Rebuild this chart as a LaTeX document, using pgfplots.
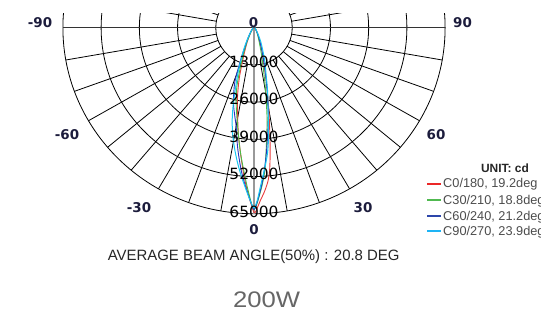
\documentclass[border=0pt]{standalone}
\usepackage{pgfplots}
\pgfplotsset{compat=1.18}
\usepackage{pgfplotstable}
\usepackage{fontspec}
\setmainfont{Liberation Sans}
\newfontfamily\dv{DejaVu Sans}

\definecolor{lbl}{RGB}{28,28,60}
\definecolor{cred}{RGB}{232,60,60}
\definecolor{cgreen}{RGB}{70,190,70}
\definecolor{cblue}{RGB}{40,50,190}
\definecolor{ccyan}{RGB}{20,200,240}
\definecolor{legR}{RGB}{235,40,40}
\definecolor{legG}{RGB}{80,185,80}
\definecolor{legB}{RGB}{45,70,170}
\definecolor{legC}{RGB}{30,180,245}

% angle (deg from nadir), intensity (kcd)
\pgfplotstableread{
a r
-90 0.3
-60 0.5
-40 1.2
-30 3
-25 5.5
-20 10
-16 18
-13 25
-10 32
-8 38
-6 44
-4 51
-2 58
0 64.5
1 63
2 60.5
3.5 57.5
5 54
6 50.5
7 45
8 39
9 33.5
10 29
12 21
14 15
17 10
20 7
25 4
30 2.5
40 1.2
60 0.5
90 0.3
}\redtab

\pgfplotstableread{
a r
-90 0.3
-60 0.5
-40 1.2
-30 3
-25 6
-20 12
-16 21
-13 27
-10 33
-8 38
-6 44
-4 50
-2 57
0 63.5
2 58
4 51
5.5 43
7 36
8 32
10 23
12 16
15 10
20 5
25 3
30 2
40 1
60 0.5
90 0.3
}\greentab

\pgfplotstableread{
a r
-90 0.3
-60 0.5
-40 1.5
-30 4
-25 7
-22 12
-19 20
-15 27
-12 31.5
-10 35
-7.5 42.5
-5 50
-3 55.5
-1 61
0 63.5
1 61
3 54
5 46
7 38
9 31
11 24
13 18
16 12
20 7
25 4
30 2.5
40 1
60 0.5
90 0.3
}\bluetab

\pgfplotstableread{
a r
-90 0.3
-60 0.5
-40 1.5
-30 4
-25 8
-20 15
-17 21
-15 27
-13 33
-11 38
-9 42.5
-7 47
-5 51.5
-3 56
-2 58.5
-1 61
0 63
1 60.5
2 56.5
3 53
4 50
5 47
6 44
7 40
8 35
9 31
10 27.5
12 22
14 17
16 14
18 11.5
20 9
25 5.5
30 3
40 1.2
60 0.5
90 0.3
}\cyantab

\begin{document}
\begin{tikzpicture}[x=1bp,y=1bp]
\path[use as bounding box] (0,0) rectangle (541,315);
% polar grid
\begin{scope}[shift={(254,287.3)}, xscale=2.94, yscale=-2.862]
  \clip (-70,-4.8) rectangle (70,70);
  \foreach \r in {13,26,39,52,65}
    \draw[black, line width=0.8bp] (0,0) circle[radius=\r];
  \foreach \a in {10,20,...,350}
    \draw[black, line width=0.8bp] ({13*sin(\a)},{13*cos(\a)}) -- ({65*sin(\a)},{65*cos(\a)});
  \draw[black!80, line width=1.1bp] (-65,0) -- (65,0);
  \draw[black!40, line width=1.3bp] (0,0) -- (0,65);
\end{scope}

\begin{axis}[at={(0,0)}, anchor=south west, scale only axis,
  width=541bp, height=315bp,
  xmin=-86.395, xmax=97.619, ymin=-100.384, ymax=9.679,
  hide axis, clip=false]
\addplot[cred, line width=0.9bp, smooth] table[x expr={\thisrow{r}*sin(\thisrow{a})}, y expr={-\thisrow{r}*cos(\thisrow{a})}] {\redtab};
\addplot[cgreen, line width=0.9bp, smooth] table[x expr={\thisrow{r}*sin(\thisrow{a})}, y expr={-\thisrow{r}*cos(\thisrow{a})}] {\greentab};
\addplot[cblue, line width=0.9bp, smooth] table[x expr={\thisrow{r}*sin(\thisrow{a})}, y expr={-\thisrow{r}*cos(\thisrow{a})}] {\bluetab};
\addplot[ccyan, line width=1.0bp, smooth] table[x expr={\thisrow{r}*sin(\thisrow{a})}, y expr={-\thisrow{r}*cos(\thisrow{a})}] {\cyantab};
\end{axis}

% ring labels
\foreach \v/\yy in {13000/253.3, 26000/216.5, 39000/178.5, 52000/141.5, 65000/103.5}
  \node[inner sep=0, text=black, font=\dv\fontsize{15.5}{16}\selectfont] at (254,\yy) {\v};

% angle labels
\begin{scope}[every node/.style={inner sep=0, text=lbl, font=\dv\bfseries\fontsize{13.5}{14}\selectfont}]
\node at (253.5,292.3) {0};
\node at (40,292.3) {-90};
\node at (462.5,292.3) {90};
\node at (67,180) {-60};
\node at (436,180) {60};
\node at (139,107.5) {-30};
\node at (363,107.5) {30};
\node at (254,85) {0};
\end{scope}

% legend
\node[inner sep=0, text=black!85, font=\bfseries\fontsize{12}{12}\selectfont] at (505,147) {UNIT: cd};
\fill[fill=legR] (427,130.5) rectangle (441,132.5);
\fill[fill=legG] (427,114) rectangle (441,116);
\fill[fill=legB] (427,98.3) rectangle (441,100.3);
\fill[fill=legC] (427,83) rectangle (441,85);
\begin{scope}[every node/.style={inner sep=0, anchor=base west, text=black!70, font=\fontsize{12.8}{12.8}\selectfont}]
\node at (443,127.2) {C0/180, 19.2deg};
\node at (443,110.5) {C30/210, 18.8deg};
\node at (443,94.8) {C60/240, 21.2deg};
\node at (443,79.5) {C90/270, 23.9deg};
\end{scope}

% titles
\node[inner sep=0, anchor=base, text=black!85, font=\fontsize{15}{15}\selectfont] at (253.7,54.4) {AVERAGE BEAM ANGLE(50\%) : 20.8 DEG};
\node[inner sep=0, anchor=base, text=black!60] at (266.5,7.2) {\resizebox{67bp}{15.7bp}{\fontsize{22}{22}\selectfont 200W}};
\end{tikzpicture}
\end{document}
